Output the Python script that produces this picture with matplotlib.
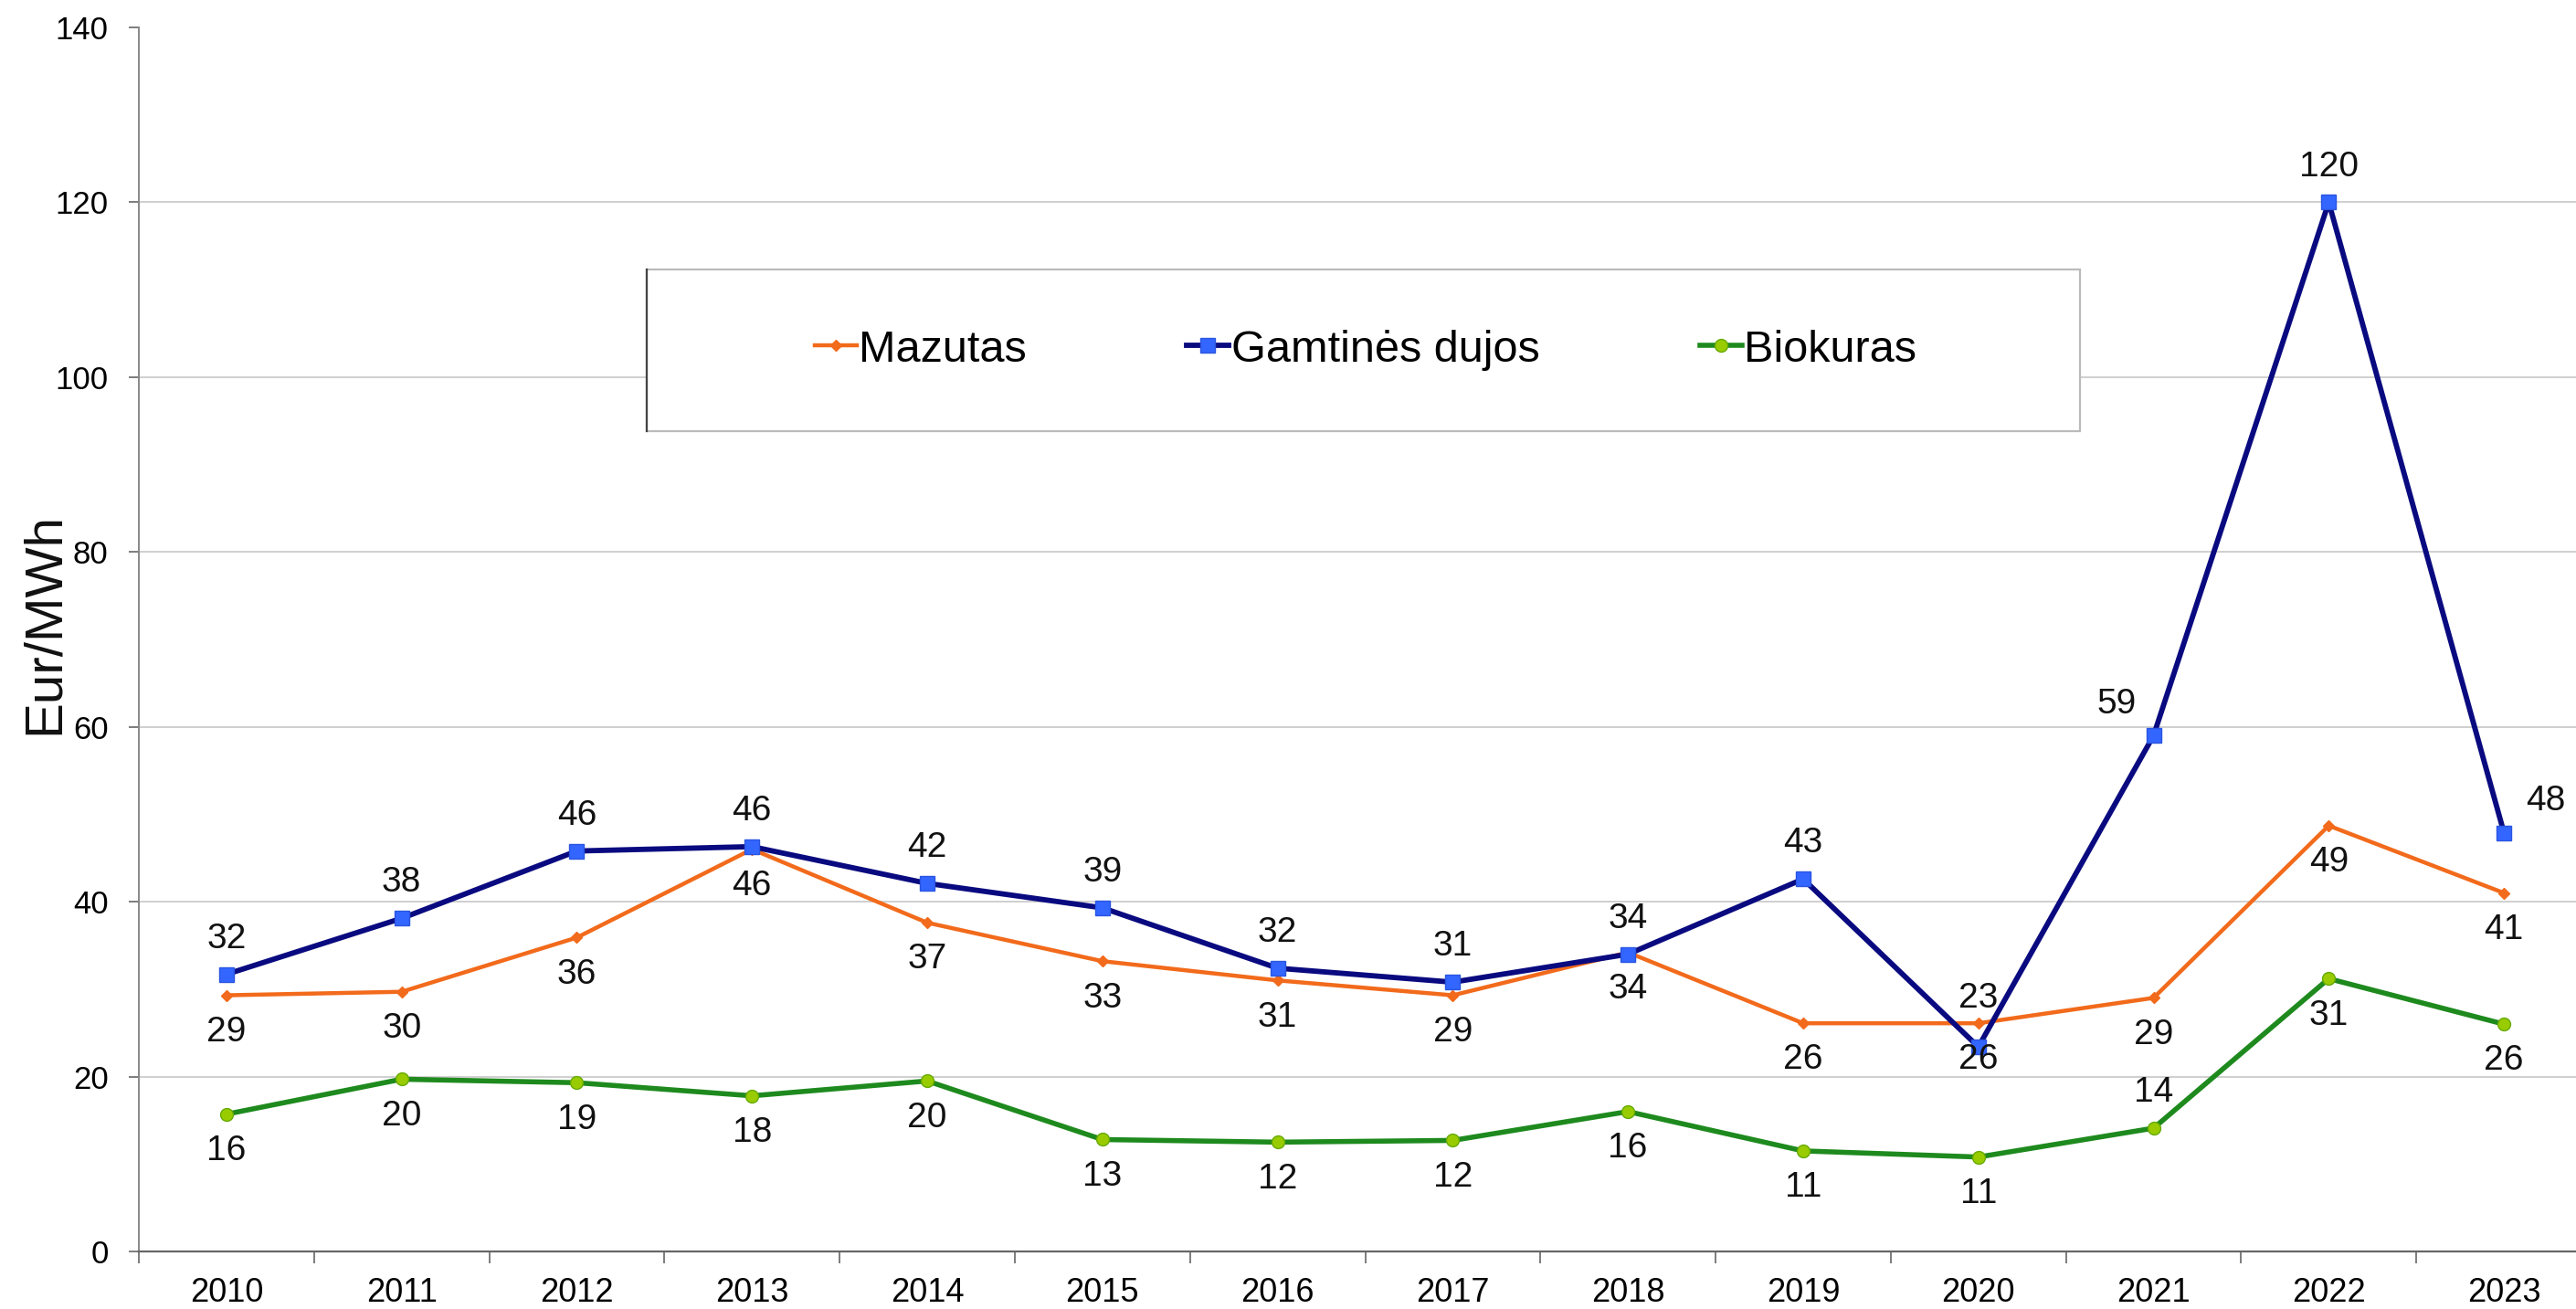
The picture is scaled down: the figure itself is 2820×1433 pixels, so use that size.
import matplotlib
matplotlib.use('Agg')
import matplotlib.pyplot as plt
from matplotlib.patches import Rectangle

plt.rcParams['font.family'] = ['Liberation Sans', 'DejaVu Sans']

years    = ['2010', '2011', '2012', '2013', '2014', '2015', '2016',
            '2017', '2018', '2019', '2020', '2021', '2022', '2023']
mazutas  = [29.3, 29.7, 35.9, 46.0, 37.6, 33.2, 31.0, 29.3, 34.2, 26.1, 26.1, 29.0, 48.7, 41.0]
dujos    = [31.7, 38.1, 45.8, 46.3, 42.1, 39.3, 32.4, 30.8, 34.0, 42.6, 23.4, 59.0, 120.0, 47.9]
biokuras = [15.7, 19.7, 19.3, 17.8, 19.5, 12.8, 12.5, 12.7, 16.0, 11.5, 10.8, 14.1, 31.2, 26.0]

maz_labels = ['29', '30', '36', '46', '37', '33', '31', '29', '34', '26', '26', '29', '49', '41']
duj_labels = ['32', '38', '46', '46', '42', '39', '32', '31', '34', '43', '23', '59', '120', '48']
bio_labels = ['16', '20', '19', '18', '20', '13', '12', '12', '16', '11', '11', '14', '31', '26']

x = list(range(len(years)))

fig = plt.figure(figsize=(28.2, 14.33), dpi=100)
ax = fig.add_axes([152/2820, 63/1433, (2837-152)/2820, 1340/1433])

ax.plot(x, mazutas, color='#F26A1B', lw=3.2, marker='D', ms=6.5,
        mfc='#F26A1B', mec='#F26A1B', label='Mazutas', zorder=3)
ax.plot(x, dujos, color='#0A0A80', lw=4.2, marker='s', ms=11,
        mfc='#3366FF', mec='#2A55E0', label='Gamtinės dujos', zorder=4)
ax.plot(x, biokuras, color='#1E8A1E', lw=4.0, marker='o', ms=10,
        mfc='#99CC00', mec='#66AA00', label='Biokuras', zorder=3)

lab_kw = dict(textcoords='offset points', ha='center', va='center',
              fontsize=28, color='#111111', zorder=5)

for i in x:
    ax.annotate(maz_labels[i], (i, mazutas[i]), xytext=(0, -29), **lab_kw)

# gas labels above, a few moved aside
for i in x:
    if i == 13:
        off = (33, 25)
    elif i == 11:
        off = (-29, 25)
    elif i == 10:
        off = (0, 38)
    else:
        off = (0, 28)
    ax.annotate(duj_labels[i], (i, dujos[i]), xytext=off, **lab_kw)

for i in x:
    off = (0, 28) if i == 11 else (0, -29)
    ax.annotate(bio_labels[i], (i, biokuras[i]), xytext=off, **lab_kw)

ax.set_xlim(-0.5, len(years) - 0.5)
ax.set_ylim(0, 140)
ax.set_yticks(range(0, 141, 20))
ax.set_xticks(x)
ax.set_xticklabels(years)
ax.set_xticks([i + 0.5 for i in range(-1, len(years))], minor=True)
ax.tick_params(axis='x', which='major', length=0, pad=20, labelsize=26)
ax.tick_params(axis='x', which='minor', length=9, width=1.2, color='#666666')
ax.tick_params(axis='y', length=8, width=1.2, color='#666666', pad=16, labelsize=25)

ax.yaxis.grid(True, color='#CCCCCC', lw=1.3)
ax.get_ygridlines()[-1].set_visible(False)
ax.set_axisbelow(True)
for s in ['top', 'right']:
    ax.spines[s].set_visible(False)
ax.spines['left'].set_color('#888888')
ax.spines['left'].set_linewidth(1.4)
ax.spines['bottom'].set_color('#666666')
ax.spines['bottom'].set_linewidth(1.6)

fig.text(49/2820, 1 - 682/1433, 'Eur/MWh', rotation=90, ha='center', va='center',
         fontsize=42, color='#111111')

# legend box
box = Rectangle((708/2820, 1 - 472/1433), (2277-708)/2820, (472-295)/1433,
                transform=fig.transFigure, facecolor='white', edgecolor='#BBBBBB',
                lw=1.6, zorder=6)
fig.patches.append(box)
fig.add_artist(plt.Line2D([708/2820, 708/2820], [1 - 472/1433, 1 - 295/1433],
                          transform=fig.transFigure, color='#444444', lw=1.6, zorder=7))

leg = fig.legend(loc='center', bbox_to_anchor=(1495/2820, 1 - 383/1433), ncol=3,
                 frameon=False, fontsize=35, handlelength=0.95, handletextpad=0.05,
                 columnspacing=3.6)
leg.set_zorder(8)

fig.savefig('out.png', dpi=100)
